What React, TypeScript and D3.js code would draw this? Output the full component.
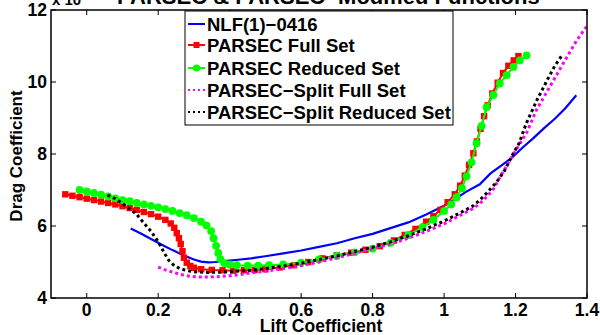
import React from "react";
import * as d3 from "d3";

const W = 600, H = 335;
const M = { left: 51, right: 587, top: 10, bottom: 298 };

const xTicks = [0, 0.2, 0.4, 0.6, 0.8, 1, 1.2, 1.4];
const xTickLabels = ["0", "0.2", "0.4", "0.6", "0.8", "1", "1.2", "1.4"];
const yTicks = [4, 6, 8, 10, 12];
const yTickLabels = ["4", "6", "8", "10", "12"];

const seriesNames = [
  "NLF(1)\u22120416",
  "PARSEC Full Set",
  "PARSEC Reduced Set",
  "PARSEC\u2212Split Full Set",
  "PARSEC\u2212Split Reduced Set",
];

const nlf: [number, number][] = [
  [0.123, 5.93], [0.15, 5.8], [0.18, 5.64], [0.21, 5.48], [0.24, 5.33], [0.27, 5.19],
  [0.3, 5.07], [0.32, 5.01], [0.34, 4.99], [0.36, 5.0], [0.38, 5.02], [0.4, 5.04],
  [0.43, 5.07], [0.46, 5.1], [0.5, 5.16], [0.55, 5.24], [0.6, 5.32], [0.65, 5.42],
  [0.7, 5.52], [0.75, 5.66], [0.8, 5.78], [0.85, 5.94], [0.9, 6.1], [0.95, 6.32],
  [1.0, 6.56], [1.03, 6.74], [1.06, 6.94], [1.1, 7.16], [1.13, 7.46], [1.16, 7.68],
  [1.19, 7.9], [1.22, 8.18], [1.25, 8.44], [1.28, 8.72], [1.31, 8.98], [1.34, 9.28],
  [1.37, 9.63],
];

const parsecFull: [number, number][] = [
  [-0.06, 6.88], [-0.04, 6.84], [-0.02, 6.8], [0.0, 6.76], [0.02, 6.72], [0.04, 6.68],
  [0.06, 6.64], [0.08, 6.6], [0.1, 6.55], [0.12, 6.5], [0.14, 6.45], [0.16, 6.39],
  [0.18, 6.33], [0.2, 6.26], [0.22, 6.17], [0.235, 6.07], [0.245, 5.95], [0.252, 5.8],
  [0.258, 5.66], [0.263, 5.5], [0.268, 5.3], [0.272, 5.12], [0.28, 4.98], [0.29, 4.89],
  [0.3, 4.84], [0.32, 4.8], [0.35, 4.78], [0.38, 4.77], [0.41, 4.76], [0.44, 4.77],
  [0.47, 4.78], [0.5, 4.8], [0.54, 4.85], [0.58, 4.91], [0.62, 5.0], [0.66, 5.1],
  [0.7, 5.19], [0.74, 5.26], [0.78, 5.34], [0.82, 5.44], [0.86, 5.6], [0.89, 5.75],
  [0.92, 5.92], [0.95, 6.12], [0.97, 6.27], [0.99, 6.45], [1.01, 6.66], [1.03, 6.88],
  [1.045, 7.12], [1.058, 7.4], [1.07, 7.7], [1.082, 8.02], [1.092, 8.35], [1.102, 8.7],
  [1.112, 9.05], [1.122, 9.35], [1.135, 9.68], [1.15, 9.98], [1.165, 10.25], [1.18, 10.45],
  [1.195, 10.6], [1.208, 10.72],
];

const parsecReduced: [number, number][] = [
  [-0.02, 7.0], [0.0, 6.96], [0.02, 6.92], [0.04, 6.87], [0.06, 6.82], [0.08, 6.77],
  [0.1, 6.72], [0.12, 6.69], [0.14, 6.64], [0.16, 6.6], [0.18, 6.56], [0.2, 6.52],
  [0.22, 6.47], [0.24, 6.42], [0.26, 6.36], [0.28, 6.3], [0.3, 6.22], [0.32, 6.12],
  [0.335, 6.02], [0.348, 5.86], [0.355, 5.66], [0.362, 5.45], [0.368, 5.25], [0.374, 5.08],
  [0.385, 4.97], [0.4, 4.93], [0.42, 4.91], [0.45, 4.9], [0.48, 4.9], [0.51, 4.91],
  [0.55, 4.93], [0.6, 4.98], [0.65, 5.07], [0.7, 5.17], [0.75, 5.27], [0.8, 5.37],
  [0.85, 5.53], [0.9, 5.75], [0.94, 5.97], [0.97, 6.17], [1.0, 6.42], [1.02, 6.6],
  [1.035, 6.8], [1.05, 7.05], [1.063, 7.38], [1.077, 7.77], [1.091, 8.3], [1.105, 8.78],
  [1.119, 9.3], [1.138, 9.64], [1.156, 9.96], [1.175, 10.19], [1.194, 10.42], [1.212, 10.6],
  [1.231, 10.74],
];

const splitFull: [number, number][] = [
  [0.2, 4.86], [0.22, 4.78], [0.24, 4.72], [0.26, 4.66], [0.29, 4.6], [0.32, 4.58],
  [0.36, 4.59], [0.4, 4.62], [0.43, 4.65], [0.46, 4.7], [0.5, 4.74], [0.55, 4.82],
  [0.6, 4.9], [0.65, 5.0], [0.7, 5.12], [0.75, 5.24], [0.8, 5.37], [0.85, 5.5],
  [0.9, 5.66], [0.95, 5.85], [1.0, 6.06], [1.04, 6.27], [1.08, 6.48], [1.1, 6.62],
  [1.12, 6.82], [1.14, 7.05], [1.156, 7.35], [1.18, 7.75], [1.203, 8.14], [1.231, 8.59],
  [1.259, 9.23], [1.296, 9.87], [1.333, 10.51], [1.371, 11.15], [1.4, 11.56],
];

const splitReduced: [number, number][] = [
  [0.058, 6.86], [0.08, 6.76], [0.1, 6.62], [0.12, 6.48], [0.14, 6.32], [0.16, 6.08],
  [0.18, 5.85], [0.2, 5.56], [0.21, 5.38], [0.22, 5.2], [0.23, 5.04], [0.245, 4.9],
  [0.26, 4.82], [0.28, 4.76], [0.3, 4.73], [0.34, 4.71], [0.38, 4.72], [0.43, 4.75],
  [0.48, 4.79], [0.55, 4.89], [0.6, 4.97], [0.65, 5.07], [0.7, 5.17], [0.75, 5.29],
  [0.8, 5.41], [0.85, 5.56], [0.9, 5.73], [0.95, 5.92], [1.0, 6.14], [1.04, 6.34],
  [1.08, 6.55], [1.1, 6.72], [1.12, 6.92], [1.147, 7.22], [1.17, 7.55], [1.19, 7.95],
  [1.21, 8.3], [1.23, 8.85], [1.26, 9.5], [1.29, 10.08], [1.31, 10.45], [1.328, 10.71],
];

const FONT = "'Liberation Sans', Arial, Helvetica, sans-serif";

export default function App() {
  const x = d3.scaleLinear().domain([-0.1, 1.4]).range([M.left, M.right]);
  const y = d3.scaleLinear().domain([4, 12]).range([M.bottom, M.top]);
  const line = d3
    .line<[number, number]>()
    .x((d) => x(d[0]))
    .y((d) => y(d[1]));

  const tickLen = 5;
  const legendRows = [24, 45, 68, 90, 112];

  return (
    <svg
      width={W}
      height={H}
      style={{ position: "absolute", left: 0, top: 0, background: "#fff" }}
      fontFamily={FONT}
    >
      <defs>
        <clipPath id="plot">
          <rect x={M.left} y={M.top} width={M.right - M.left} height={M.bottom - M.top} />
        </clipPath>
      </defs>
      <rect x={0} y={0} width={W} height={H} fill="#fff" />

      {/* Title (partially cut at top) */}
      <text x={117} y={4} fontSize={22} fontWeight="bold">
        PARSEC &amp; PARSEC{"\u2212"}Modified Functions
      </text>
      <text x={52} y={5} fontSize={15} fontWeight="bold">
        x 10
        <tspan dy={-8} fontSize={11}>{"\u22123"}</tspan>
      </text>

      {/* Series */}
      <g clipPath="url(#plot)" fill="none">
        <path d={line(nlf) || ""} stroke="#0000ff" strokeWidth={2.2} />
        <path d={line(parsecFull) || ""} stroke="#ff0000" strokeWidth={2} />
        {parsecFull.map((d, i) => (
          <rect key={"r" + i} x={x(d[0]) - 3.2} y={y(d[1]) - 3.2} width={6.4} height={6.4} fill="#ff0000" />
        ))}
        <path d={line(parsecReduced) || ""} stroke="#00ff00" strokeWidth={2} />
        {parsecReduced.map((d, i) => (
          <circle key={"g" + i} cx={x(d[0])} cy={y(d[1])} r={3.9} fill="#00ff00" />
        ))}
        <path
          d={line(splitFull) || ""}
          stroke="#ff00ff"
          strokeWidth={3}
          strokeDasharray="3,3"
        />
        <path
          d={line(splitReduced) || ""}
          stroke="#000000"
          strokeWidth={3}
          strokeDasharray="3,3"
        />
      </g>

      {/* Axes box */}
      <rect
        x={M.left}
        y={M.top}
        width={M.right - M.left}
        height={M.bottom - M.top}
        fill="none"
        stroke="#000"
        strokeWidth={1.5}
      />
      {xTicks.map((t, i) => (
        <g key={"xt" + i}>
          <line x1={x(t)} x2={x(t)} y1={M.bottom} y2={M.bottom - tickLen} stroke="#000" strokeWidth={1} />
          <line x1={x(t)} x2={x(t)} y1={M.top} y2={M.top + tickLen} stroke="#000" strokeWidth={1} />
          <text x={x(t)} y={316} textAnchor="middle" fontSize={17.5} fontWeight="bold">
            {xTickLabels[i]}
          </text>
        </g>
      ))}
      {yTicks.map((t, i) => (
        <g key={"yt" + i}>
          <line x1={M.left} x2={M.left + tickLen} y1={y(t)} y2={y(t)} stroke="#000" strokeWidth={1} />
          <line x1={M.right} x2={M.right - tickLen} y1={y(t)} y2={y(t)} stroke="#000" strokeWidth={1} />
          <text x={47} y={y(t) + 6} textAnchor="end" fontSize={17.5} fontWeight="bold">
            {yTickLabels[i]}
          </text>
        </g>
      ))}

      <text x={321} y={332} textAnchor="middle" fontSize={17.5} fontWeight="bold">
        Lift Coefficient
      </text>
      <text
        transform={`translate(22, ${156}) rotate(-90)`}
        textAnchor="middle"
        fontSize={17}
        fontWeight="bold"
      >
        Drag Coefficient
      </text>

      {/* Legend */}
      <rect x={185} y={11} width={268} height={114} fill="#fff" stroke="#000" strokeWidth={1} />
      {seriesNames.map((name, i) => {
        const ly = legendRows[i];
        return (
          <g key={"lg" + i}>
            {i === 0 && <line x1={188} x2={205} y1={ly} y2={ly} stroke="#0000ff" strokeWidth={2} />}
            {i === 1 && (
              <g>
                <line x1={188} x2={205} y1={ly} y2={ly} stroke="#ff0000" strokeWidth={2} />
                <rect x={193.5} y={ly - 3} width={6} height={6} fill="#ff0000" />
              </g>
            )}
            {i === 2 && (
              <g>
                <line x1={188} x2={205} y1={ly} y2={ly} stroke="#00ff00" strokeWidth={2} />
                <circle cx={196.5} cy={ly} r={3.6} fill="#00ff00" />
              </g>
            )}
            {i === 3 && (
              <line x1={188} x2={205} y1={ly} y2={ly} stroke="#ff00ff" strokeWidth={2} strokeDasharray="2,3" />
            )}
            {i === 4 && (
              <line x1={188} x2={205} y1={ly} y2={ly} stroke="#000" strokeWidth={2} strokeDasharray="2,3" />
            )}
            <text x={207} y={ly + 6.5} fontSize={18.5} fontWeight="bold">
              {name}
            </text>
          </g>
        );
      })}
    </svg>
  );
}
